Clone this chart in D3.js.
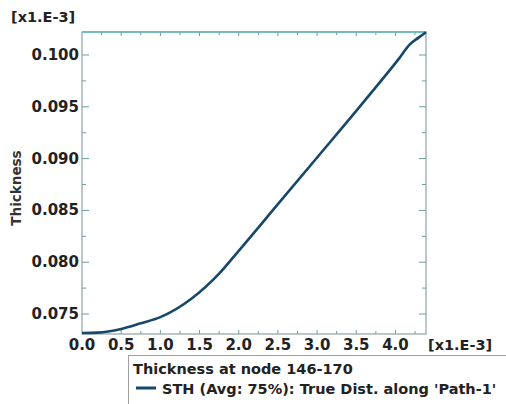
<!DOCTYPE html>
<html>
<head>
<meta charset="utf-8">
<script src="https://cdn.jsdelivr.net/npm/d3@7"></script>
<style>
  body { margin: 0; background: #fff; }
  text { font-family: "DejaVu Sans", Verdana, sans-serif; }
</style>
</head>
<body>
<div id="chart"></div>
<script>
// Distance along path [x1.E-3] and thickness [x1.E-3]
const distance = [0, 0.2, 0.5, 0.75, 1.0, 1.4, 1.75, 2.0, 2.5, 3.0, 3.5, 3.75, 4.05, 4.18, 4.3, 4.39];
const thickness = [0.07317, 0.0732, 0.07355, 0.0741, 0.0747, 0.0765, 0.0789, 0.0811, 0.0856, 0.0901, 0.0946, 0.0969, 0.0997, 0.1010, 0.1017, 0.1022];
const xTickLabels = ["0.0", "0.5", "1.0", "1.5", "2.0", "2.5", "3.0", "3.5", "4.0"];
const yTickLabels = ["0.075", "0.080", "0.085", "0.090", "0.095", "0.100"];
const legendTitle = "Thickness at node 146-170";
const seriesName = "STH (Avg: 75%): True Dist. along 'Path-1'";

const width = 506, height = 404;
const margin = { left: 82, right: 80, top: 32, bottom: 70 };

const svg = d3.select("#chart").append("svg")
    .attr("width", width)
    .attr("height", height);

const x = d3.scaleLinear().domain([0, 4.39]).range([margin.left, width - margin.right]);
const y = d3.scaleLinear().domain([0.07307, 0.10222]).range([height - margin.bottom, margin.top]);

const frameColor = "#8fa3a3";
const tickColor = "#6a9c9c";

// minor/major ticks on all four sides, pointing inward
const xTicks = d3.range(0.25, 4.39, 0.25);
const yTicks = d3.range(0.075, 0.1021, 0.0025);

const g = svg.append("g");
xTicks.forEach(t => {
    const major = Math.abs(t * 2 - Math.round(t * 2)) < 1e-6;
    const len = major ? 4 : 3;
    g.append("line").attr("x1", x(t)).attr("x2", x(t))
        .attr("y1", y.range()[0]).attr("y2", y.range()[0] - len)
        .attr("stroke", tickColor).attr("stroke-width", 1);
    g.append("line").attr("x1", x(t)).attr("x2", x(t))
        .attr("y1", y.range()[1]).attr("y2", y.range()[1] + len)
        .attr("stroke", tickColor).attr("stroke-width", 1);
});
yTicks.forEach((t, i) => {
    const len = i % 2 === 0 ? 7 : 4;
    g.append("line").attr("x1", x.range()[0]).attr("x2", x.range()[0] + len)
        .attr("y1", y(t)).attr("y2", y(t))
        .attr("stroke", tickColor).attr("stroke-width", 1);
    g.append("line").attr("x1", x.range()[1]).attr("x2", x.range()[1] - len)
        .attr("y1", y(t)).attr("y2", y(t))
        .attr("stroke", tickColor).attr("stroke-width", 1);
});

// plot frame
svg.append("rect")
    .attr("x", x.range()[0]).attr("y", y.range()[1])
    .attr("width", x.range()[1] - x.range()[0])
    .attr("height", y.range()[0] - y.range()[1])
    .attr("fill", "none")
    .attr("stroke", frameColor)
    .attr("stroke-width", 1.2);
svg.append("line")
    .attr("x1", x.range()[0]).attr("x2", x.range()[1])
    .attr("y1", y.range()[1]).attr("y2", y.range()[1])
    .attr("stroke", "#5fb8b8").attr("stroke-width", 1.5);

// curve
const data = distance.map((d, i) => ({ x: d, y: thickness[i] }));
svg.append("path")
    .datum(data)
    .attr("fill", "none")
    .attr("stroke", "#17486a")
    .attr("stroke-width", 2.6)
    .attr("d", d3.line().x(d => x(d.x)).y(d => y(d.y)).curve(d3.curveMonotoneX));

// tick labels
svg.append("g").selectAll("text")
    .data(yTickLabels)
    .join("text")
    .attr("x", x.range()[0] - 3)
    .attr("y", d => y(+d) + 5)
    .attr("text-anchor", "end")
    .attr("font-size", 15)
    .attr("font-weight", "bold")
    .attr("fill", "#222")
    .text(d => d);

svg.append("g").selectAll("text")
    .data(xTickLabels)
    .join("text")
    .attr("x", d => x(+d))
    .attr("y", y.range()[0] + 16)
    .attr("text-anchor", "middle")
    .attr("font-size", 15)
    .attr("font-weight", "bold")
    .attr("fill", "#222")
    .text(d => d);

svg.append("text")
    .attr("x", 11).attr("y", 22)
    .attr("font-size", 14.5).attr("font-weight", "bold").attr("fill", "#222")
    .text("[x1.E-3]");
svg.append("text")
    .attr("x", 428).attr("y", y.range()[0] + 16)
    .attr("font-size", 14.5).attr("font-weight", "bold").attr("fill", "#222")
    .text("[x1.E-3]");

svg.append("text")
    .attr("transform", `translate(21,${(y.range()[0] + y.range()[1]) / 2 + 5}) rotate(-90)`)
    .attr("text-anchor", "middle")
    .attr("font-size", 13.5).attr("font-weight", "bold").attr("fill", "#333")
    .text("Thickness");

// legend
const legend = svg.append("g").attr("transform", "translate(128,355)");
legend.append("rect")
    .attr("x", 0.5).attr("y", 0.5)
    .attr("width", 400).attr("height", 60)
    .attr("fill", "#fff")
    .attr("stroke", "#a0a0a0");
legend.append("text")
    .attr("x", 5).attr("y", 19)
    .attr("font-size", 14.5).attr("font-weight", "bold").attr("fill", "#222")
    .text(legendTitle);
legend.append("line")
    .attr("x1", 8).attr("x2", 28).attr("y1", 33).attr("y2", 33)
    .attr("stroke", "#17486a").attr("stroke-width", 3);
legend.append("text")
    .attr("x", 34).attr("y", 39)
    .attr("font-size", 14.5).attr("font-weight", "bold").attr("fill", "#222")
    .text(seriesName);
</script>
</body>
</html>
